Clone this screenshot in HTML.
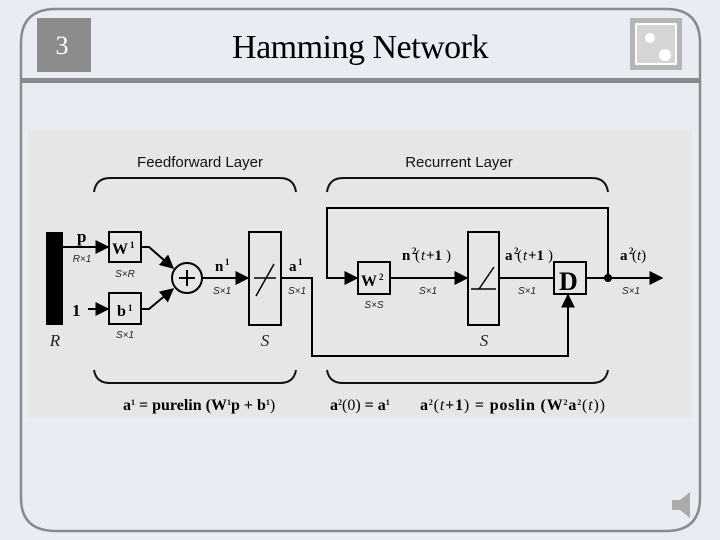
<!DOCTYPE html>
<html><head><style>
body{margin:0;width:720px;height:540px;overflow:hidden;background:#e9edf3;}
svg{display:block}
</style></head><body>
<svg width="720" height="540" viewBox="0 0 720 540" xmlns="http://www.w3.org/2000/svg" font-family="Liberation Serif, serif">
<defs>
<marker id="ab" viewBox="0 0 10 10" refX="9" refY="5" markerWidth="14" markerHeight="14" orient="auto" markerUnits="userSpaceOnUse"><path d="M0,0L10,5L0,10z" fill="#000"/></marker>
</defs>
<rect width="720" height="540" fill="#e9edf3"/>
<path d="M56,9 H666 Q700,9 700,43 V498 Q700,531 666,531 H56 Q21,531 21,498 V43 Q21,9 56,9 Z" fill="none" stroke="#8a8a8a" stroke-width="2.5"/>
<rect x="21" y="78" width="680" height="5" fill="#8a8a8a"/>
<rect x="37" y="18" width="54" height="54" fill="#8c8c8c"/>
<text x="62" y="54" font-size="26" fill="#fff" text-anchor="middle">3</text>
<text x="360" y="58" font-size="34" text-anchor="middle" fill="#000" letter-spacing="-0.5">Hamming Network</text>
<rect x="630" y="18" width="52" height="52" fill="#b5b5b5"/>
<rect x="636" y="24" width="40" height="40" fill="#d5d5d5" stroke="#fff" stroke-width="2"/>
<circle cx="650" cy="38" r="5" fill="#fff"/><circle cx="665" cy="55" r="6" fill="#fff"/>
<path d="M672,500 h8 l10,-8 v26 l-10,-8 h-8z" fill="#aaa"/>
<rect x="28" y="130" width="664" height="288" fill="#e6e6e6"/>
<g font-family="Liberation Sans, sans-serif" font-size="15" fill="#111" text-anchor="middle">
<text x="200" y="167">Feedforward Layer</text>
<text x="459" y="167">Recurrent Layer</text>
</g>
<g fill="none" stroke="#111" stroke-width="2">
<path d="M94,192 Q96,178 110,178 H280 Q294,178 296,192"/>
<path d="M327,192 Q329,178 343,178 H592 Q606,178 608,192"/>
<path d="M94,370 Q96,383 110,383 H280 Q294,383 296,370"/>
<path d="M327,370 Q329,383 343,383 H592 Q606,383 608,370"/>
</g>
<rect x="46" y="232" width="17" height="93" fill="#000"/>
<g stroke="#000" stroke-width="2" fill="none">
<rect x="109" y="232" width="32" height="30" fill="#e6e6e6"/>
<rect x="109" y="293" width="32" height="31" fill="#e6e6e6"/>
<circle cx="187" cy="278" r="15"/>
<path d="M179,278h16M187,270v16"/>
<rect x="249" y="232" width="32" height="93"/>
<path d="M254,278h22M256,296l18,-32" stroke-width="1.5"/>
<path d="M63,247H108" marker-end="url(#ab)"/>
<path d="M88,309H108" marker-end="url(#ab)"/>
<path d="M141,247h8l24,21" marker-end="url(#ab)"/>
<path d="M141,309h8l24,-20" marker-end="url(#ab)"/>
<path d="M202,278H248" marker-end="url(#ab)"/>
<path d="M281,278h31v78h256v-61" marker-end="url(#ab)"/>
<path d="M608,278V208H327v70h30" marker-end="url(#ab)"/>
<rect x="358" y="262" width="32" height="32" fill="#e6e6e6"/>
<path d="M390,278H467" marker-end="url(#ab)"/>
<rect x="468" y="232" width="31" height="93"/>
<path d="M471,289h25M479,289l15,-22" stroke-width="1.5"/>
<path d="M499,278H554"/>
<rect x="554" y="262" width="32" height="32" fill="#e6e6e6"/>
<path d="M586,278H662" marker-end="url(#ab)"/>
</g>
<circle cx="608" cy="278" r="4" fill="#000"/>
<g font-weight="bold" fill="#000">
<text x="112" y="254" font-size="16">W</text><text x="130" y="248" font-size="9">1</text>
<text x="117" y="316" font-size="16">b</text><text x="128" y="311" font-size="9">1</text>
<text x="77" y="242" font-size="17">p</text>
<text x="72" y="316" font-size="17">1</text>
<text x="215" y="271" font-size="15">n</text><text x="225" y="265" font-size="9">1</text>
<text x="289" y="271" font-size="15">a</text><text x="298" y="265" font-size="9">1</text>
<text x="361" y="286" font-size="16">W</text><text x="379" y="280" font-size="9">2</text>
<text x="559" y="290" font-size="26">D</text>
<text x="402" y="260" font-size="15">n</text><text x="412" y="254" font-size="9">2</text><text x="415" y="260" font-size="15" font-weight="normal">(</text><text x="421" y="260" font-size="15" font-style="italic" font-weight="normal">t</text><text x="426" y="260" font-size="15">+1</text><text x="446" y="260" font-size="15" font-weight="normal">)</text>
<text x="505" y="260" font-size="15">a</text><text x="514" y="254" font-size="9">2</text><text x="517" y="260" font-size="15" font-weight="normal">(</text><text x="523" y="260" font-size="15" font-style="italic" font-weight="normal">t</text><text x="528" y="260" font-size="15">+1</text><text x="548" y="260" font-size="15" font-weight="normal">)</text>
<text x="620" y="260" font-size="15">a</text><text x="629" y="254" font-size="9">2</text><text x="632" y="260" font-size="15" font-weight="normal">(<tspan font-style="italic">t</tspan>)</text>
</g>
<g font-family="Liberation Sans, sans-serif" font-size="10" font-style="italic" fill="#222" text-anchor="middle">
<text x="82" y="262">R×1</text>
<text x="125" y="277">S×R</text>
<text x="125" y="338">S×1</text>
<text x="222" y="294">S×1</text>
<text x="297" y="294">S×1</text>
<text x="374" y="308">S×S</text>
<text x="428" y="294">S×1</text>
<text x="527" y="294">S×1</text>
<text x="631" y="294">S×1</text>
</g>
<g font-size="17" font-style="italic" fill="#222" text-anchor="middle">
<text x="55" y="346">R</text><text x="265" y="346">S</text><text x="484" y="346">S</text>
</g>
<g font-size="16" font-weight="bold" fill="#000">
<text x="123" y="410">a<tspan font-size="8" dy="-5">1</tspan><tspan dy="5"> = purelin (W</tspan><tspan font-size="8" dy="-5">1</tspan><tspan dy="5">p + b</tspan><tspan font-size="8" dy="-5">1</tspan><tspan dy="5" font-weight="normal">)</tspan></text>
<text x="330" y="410">a<tspan font-size="8" dy="-5">2</tspan><tspan dy="5" font-weight="normal">(0)</tspan> = a<tspan font-size="8" dy="-5">1</tspan></text>
<text x="420" y="410" textLength="185" lengthAdjust="spacing">a<tspan font-size="8" dy="-5">2</tspan><tspan dy="5" font-weight="normal">(<tspan font-style="italic">t</tspan></tspan>+1<tspan font-weight="normal">)</tspan> = poslin (W<tspan font-size="8" dy="-5">2</tspan><tspan dy="5">a</tspan><tspan font-size="8" dy="-5">2</tspan><tspan dy="5" font-weight="normal">(<tspan font-style="italic">t</tspan>))</tspan></text>
</g>
</svg>
</body></html>
